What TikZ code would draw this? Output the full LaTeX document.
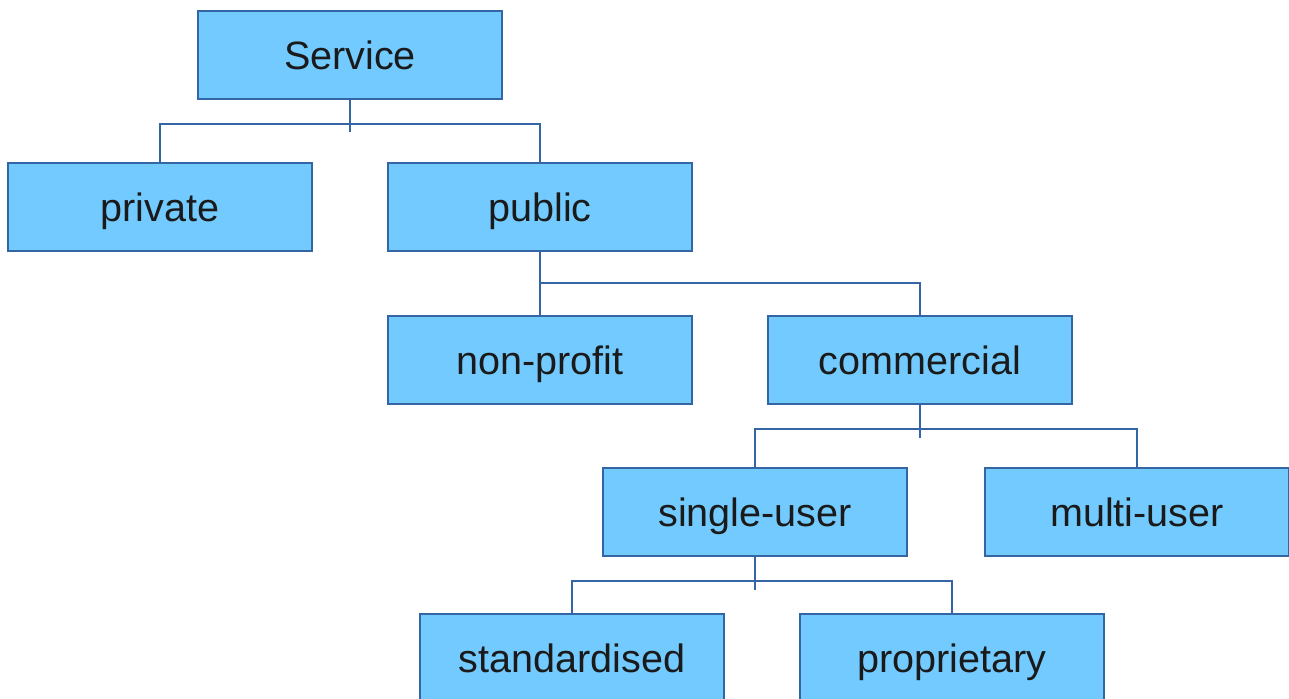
\documentclass[tikz,border=0pt]{standalone}
\usepackage{fontspec}
\setmainfont{Liberation Sans}
\usepackage{xcolor}
\usepackage{tikz}
\usetikzlibrary{positioning}

\definecolor{boxfill}{HTML}{72CAFF}
\definecolor{boxline}{HTML}{3465A4}
\definecolor{boxtext}{HTML}{1A1A1A}

\begin{document}
\begin{tikzpicture}[
        category/.style={rectangle, draw=boxline, fill=boxfill, line width=1pt, minimum width=6.08cm, minimum height=1.76cm, text height=18.4pt, text depth=2pt, align=center, text=boxtext, font=\fontsize{22.5}{27}\selectfont},
        link/.style={draw=boxline, line width=0.9pt}
    ]
        \useasboundingbox (0,0) rectangle (25.78,13.96);

        % Top level - Service
        \node[category] (service) at (7.00, 12.86) {Service};

        % Second level - private and public
        \node[category] (private) at (3.20, 9.82) {private};
        \node[category] (public) at (10.80, 9.82) {public};

        % Third level - non-profit and commercial
        \node[category] (nonprofit) at (10.80, 6.76) {non-profit};
        \node[category] (commercial) at (18.40, 6.76) {commercial};

        % Fourth level - single-user and multi-user
        \node[category] (single) at (15.10, 3.72) {single-user};
        \node[category] (multi) at (22.74, 3.72) {multi-user};

        % Fifth level - standardised and proprietary
        \node[category] (standard) at (11.44, 0.80) {standardised};
        \node[category] (proprietary) at (19.04, 0.80) {proprietary};

        % Branches
        \draw[link] (service.south) -- ++(0,-0.64);
        \draw[link] (private.north) -- ++(0,0.76) -| (public.north);
        \draw[link] (public.south) -- (nonprofit.north);
        \draw[link] (nonprofit.north) ++(0,0.64) -| (commercial.north);
        \draw[link] (commercial.south) -- ++(0,-0.66);
        \draw[link] (single.north) -- ++(0,0.76) -| (multi.north);
        \draw[link] (single.south) -- ++(0,-0.66);
        \draw[link] (standard.north) -- ++(0,0.64) -| (proprietary.north);
    \end{tikzpicture}
\end{document}
